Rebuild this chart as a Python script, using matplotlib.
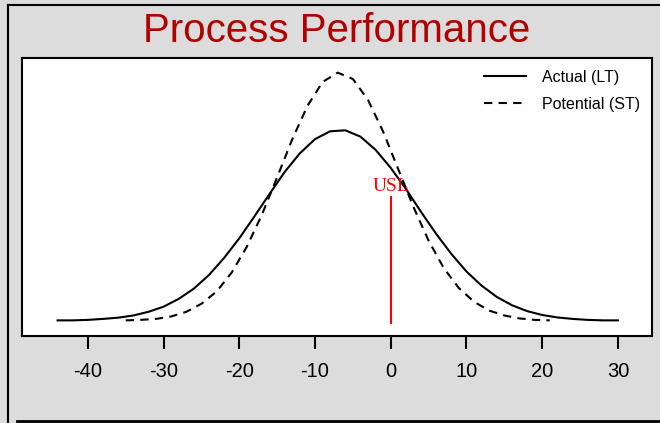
import numpy as np
import matplotlib
matplotlib.use("Agg")
import matplotlib.pyplot as plt
from matplotlib.lines import Line2D

# curve heights (arbitrary density units)
lt_x = [-44, -42, -40, -38, -36, -34, -32, -30, -28, -26, -24, -22, -20, -18, -16,
        -14, -12, -10, -8, -6, -4, -2, 0, 2, 4, 6, 8, 10, 12, 14, 16, 18, 20, 22,
        24, 26, 28, 30]
lt_y = [0.0001, 0.0001, 0.0002, 0.0004, 0.00065, 0.0011, 0.00185, 0.0029, 0.0045,
        0.0066, 0.0094, 0.0129, 0.0169, 0.0214, 0.0260, 0.0305, 0.0343, 0.0372,
        0.0388, 0.0390, 0.0377, 0.0350, 0.0313, 0.0270, 0.0223, 0.0178, 0.0137,
        0.0101, 0.0072, 0.0049, 0.0032, 0.0020, 0.0012, 0.0007, 0.0004, 0.0002,
        0.0001, 0.0001]

st_x = [-35, -33, -31, -29, -27, -25, -23, -21, -19, -17, -15, -13, -11, -9, -7,
        -5, -3, -1, 1, 3, 5, 7, 9, 11, 13, 15, 17, 19, 21]
st_y = [0.0001, 0.0002, 0.0004, 0.0009, 0.00185, 0.0035, 0.0060, 0.0099, 0.0152,
        0.0218, 0.0294, 0.0372, 0.0440, 0.0489, 0.0508, 0.0495, 0.0452, 0.0387,
        0.0310, 0.0233, 0.0164, 0.0108, 0.0067, 0.0039, 0.0021, 0.0011, 0.0005,
        0.0002, 0.0001]

usl = 0
usl_top = 0.0254
xticks = [-40, -30, -20, -10, 0, 10, 20, 30]

bg = "#dcdcdc"
fig = plt.figure(figsize=(6.6, 4.23), dpi=100, facecolor=bg)
ax = fig.add_axes([22/660, 1 - 336/423, 630/660, 278/423])

ax.plot(lt_x, lt_y, color="black", lw=1.5, label="Actual (LT)")
ax.plot(st_x, st_y, color="black", lw=1.5, linestyle=(0, (4, 3)), label="Potential (ST)")
ax.plot([usl, usl], [-0.0004, usl_top], color="#ff0000", lw=1.5)
ax.text(usl, usl_top + 0.0003, "USL", color="#ff0000", fontsize=14,
        family="Liberation Serif", ha="center", va="bottom")

ax.set_xlim(-48.7, 34.5)
ax.set_ylim(-0.0031, 0.0538)
ax.set_xticks(xticks)
ax.set_xticklabels([str(t) for t in xticks], family="Liberation Sans", fontsize=14.5)
ax.set_yticks([])
ax.tick_params(axis="x", direction="out", length=9, width=1.5, pad=10)
for s in ax.spines.values():
    s.set_linewidth(1.5)

fig.text(337/660, 1 - 31/423, "Process Performance", color="#b00000", fontsize=29,
         family="Liberation Sans", ha="center", va="center")

ax.legend(loc="upper right", bbox_to_anchor=(640/660, 1 - 70/423),
          bbox_transform=fig.transFigure, frameon=False,
          prop={"family": "Liberation Sans", "size": 11.5},
          handlelength=2.6, handletextpad=1.0, labelspacing=0.75,
          borderpad=0, borderaxespad=0)

# outer frame lines
fig.add_artist(Line2D([8/660, 8/660], [0, 1 - 5/423], transform=fig.transFigure,
                      color="black", lw=1.5))
fig.add_artist(Line2D([8/660, 1], [1 - 5/423, 1 - 5/423], transform=fig.transFigure,
                      color="black", lw=1.5))
fig.add_artist(Line2D([17/660, 1], [2/423, 2/423], transform=fig.transFigure,
                      color="black", lw=2))

fig.savefig("out.png", dpi=100, facecolor=bg)
